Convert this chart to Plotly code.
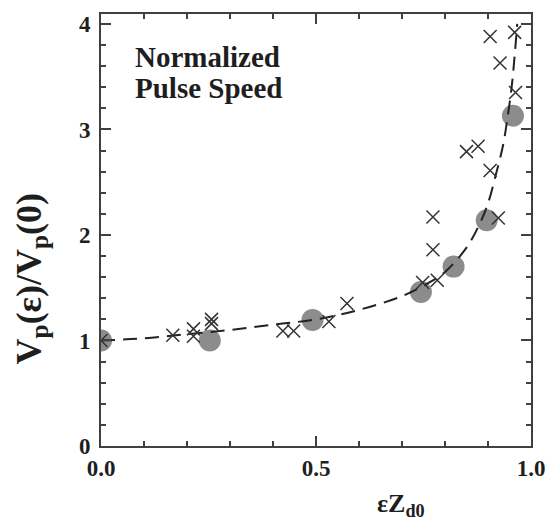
import plotly.graph_objects as go

# Measured pulse speed ratios (circles) and simulation points (crosses)
circle_x = [0.0, 0.253, 0.492, 0.744, 0.82, 0.897, 0.958]
circle_y = [1.0, 1.0, 1.195, 1.46, 1.70, 2.14, 3.13]

cross_x = [0.0, 0.167, 0.215, 0.215, 0.257, 0.257, 0.423, 0.448, 0.53, 0.572,
           0.748, 0.782, 0.772, 0.772, 0.85, 0.877, 0.905, 0.924,
           0.905, 0.928, 0.962, 0.964]
cross_y = [1.0, 1.05, 1.11, 1.04, 1.20, 1.16, 1.09, 1.09, 1.18, 1.35,
           1.55, 1.57, 1.86, 2.17, 2.79, 2.84, 2.61, 2.16,
           3.88, 3.63, 3.92, 3.35]

# Dashed guide curve
fit_x = [0.0, 0.1, 0.2, 0.3, 0.4, 0.5, 0.6, 0.7, 0.75, 0.8, 0.85, 0.88,
         0.9, 0.92, 0.935, 0.945, 0.955, 0.962, 0.968]
fit_y = [1.0, 1.02, 1.06, 1.10, 1.15, 1.20, 1.29, 1.42, 1.52, 1.65, 1.88, 2.10,
         2.30, 2.60, 2.85, 3.10, 3.40, 3.70, 4.00]

x_ticks = [0.0, 0.5, 1.0]
x_tick_text = ["0.0", "0.5", "1.0"]
y_ticks = [0, 1, 2, 3, 4]

SERIF = "Liberation Serif"
AXIS_COLOR = "#404040"
TEXT_COLOR = "#1e1e1e"

# plot area in pixels: x 101..541, y 12..446
def px_x(p):
    return (p - 101) / 440

def px_y(p):
    return (446 - p) / 434

fig = go.Figure()
fig.add_trace(go.Scatter(
    x=circle_x, y=circle_y, mode="markers",
    marker=dict(symbol="circle", size=22, color="#8c8c8c", line=dict(width=0)),
    hoverinfo="skip", showlegend=False))
fig.add_trace(go.Scatter(
    x=fit_x, y=fit_y, mode="lines", line_shape="spline",
    line=dict(color="#222222", width=2, dash="14px,8px"),
    hoverinfo="skip", showlegend=False))
fig.add_trace(go.Scatter(
    x=cross_x, y=cross_y, mode="markers",
    marker=dict(symbol="x-thin", size=13, line=dict(width=1.5, color="#333333")),
    hoverinfo="skip", showlegend=False))

axis_common = dict(
    showline=True, linecolor=AXIS_COLOR, linewidth=2, mirror="allticks",
    ticks="inside", ticklen=10, tickwidth=1.5, tickcolor=AXIS_COLOR,
    showgrid=False, zeroline=False,
    tickfont=dict(family=SERIF, size=23, color=TEXT_COLOR, weight="bold"),
)

fig.update_xaxes(
    range=[0, 1.0], tickvals=x_ticks, ticktext=x_tick_text,
    minor=dict(dtick=0.1, tick0=0, ticks="inside", ticklen=5, tickwidth=1.5,
               tickcolor=AXIS_COLOR, showgrid=False),
    **axis_common)
fig.update_yaxes(
    range=[0, 4.094], tickvals=y_ticks, ticklabelstandoff=4,
    minor=dict(dtick=0.2, tick0=0, ticks="inside", ticklen=5, tickwidth=1.5,
               tickcolor=AXIS_COLOR, showgrid=False),
    **axis_common)

label_font = dict(family=SERIF, size=29, color=TEXT_COLOR, weight="bold")
fig.add_annotation(text="Normalized", xref="paper", yref="paper",
                   x=px_x(134), y=px_y(66), xanchor="left", yanchor="bottom",
                   showarrow=False, font=label_font, yshift=-7)
fig.add_annotation(text="Pulse Speed", xref="paper", yref="paper",
                   x=px_x(134), y=px_y(97), xanchor="left", yanchor="bottom",
                   showarrow=False, font=label_font, yshift=-7)

# Axis titles
fig.add_annotation(text="εZ<sub>d0</sub>", xref="paper", yref="paper",
                   x=px_x(408), y=px_y(523),
                   xanchor="center", yanchor="bottom", showarrow=False,
                   font=dict(family=SERIF, size=26, color=TEXT_COLOR, weight="bold"))
fig.add_annotation(text="V<sub>p</sub>(ε)/V<sub>p</sub>(0)", xref="paper", yref="paper",
                   x=px_x(30), y=px_y(278), textangle=-90,
                   xanchor="center", yanchor="middle", showarrow=False,
                   font=dict(family=SERIF, size=36, color=TEXT_COLOR, weight="bold"))

fig.update_layout(
    width=557, height=524,
    margin=dict(l=101, r=16, t=12, b=78),
    paper_bgcolor="white", plot_bgcolor="white",
)

fig.write_html("out.html")
